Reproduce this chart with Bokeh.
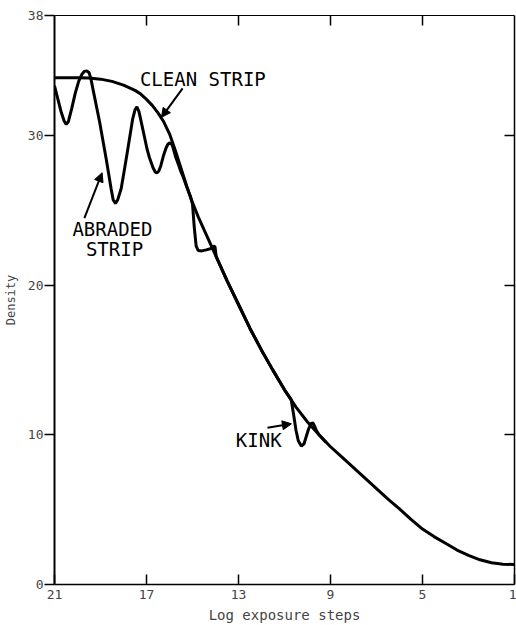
from bokeh.plotting import figure
from bokeh.models import Range1d, FixedTicker, LinearAxis, Arrow, NormalHead, CustomJSTickFormatter
from bokeh.core.properties import value
from bokeh.embed import file_html
from bokeh.resources import INLINE

# ---- data ----
clean_x = [21, 20.5, 20, 19.5, 19, 18.5, 18, 17.5, 17.25, 17, 16.75, 16.5, 16.25, 16, 15.75,
           15.5, 15.25, 15, 14.75, 14.5, 14, 13.5, 13, 12.5, 12, 11.5, 11, 10.5, 10, 9.5, 9,
           8.5, 8, 7.5, 7, 6.5, 6, 5.5, 5, 4.5, 4, 3.5, 3, 2.5, 2, 1.5, 1]
clean_y = [33.85, 33.85, 33.85, 33.83, 33.75, 33.6, 33.35, 33.0, 32.75, 32.4, 32.0, 31.5, 30.9,
           30.1, 29.0, 27.8, 26.6, 25.5, 24.55, 23.7, 22.0, 20.3, 18.7, 17.1, 15.65, 14.3,
           13.0, 11.85, 10.85, 10.0, 9.2, 8.5, 7.8, 7.1, 6.4, 5.7, 5.05, 4.35, 3.7, 3.2, 2.75,
           2.3, 1.95, 1.65, 1.45, 1.36, 1.33]

abr_x = [21.0, 20.85, 20.7, 20.58, 20.49, 20.4, 20.25, 20.1, 19.95, 19.8, 19.7, 19.6, 19.5,
         19.42, 19.33, 19.04, 18.75, 18.54, 18.45, 18.35, 18.25, 18.1, 17.95, 17.81, 17.6,
         17.5, 17.42, 17.33, 17.23, 17.09, 16.98, 16.87, 16.72, 16.62, 16.55, 16.47, 16.38,
         16.27, 16.15, 16.07, 16.0, 15.92, 15.85, 15.72, 15.6, 15.5, 15.4, 15.25, 15.1, 15.0,
         14.92, 14.84, 14.75, 14.6, 14.4, 14.19, 14.08, 14.02, 13.97, 13.5, 13.0, 12.5, 12.0,
         11.5, 11.0, 10.71, 10.6, 10.5, 10.4, 10.27, 10.15, 10.05, 9.95, 9.85, 9.77, 9.7,
         9.6, 9.5, 9.2]
abr_y = [33.3, 32.4, 31.5, 30.95, 30.73, 30.9, 31.8, 32.8, 33.6, 34.1, 34.27, 34.3, 34.2,
         33.8, 33.1, 30.9, 28.4, 26.45, 25.7, 25.44, 25.7, 26.45, 27.8, 29.1, 31.1,
         31.7, 31.9, 31.6, 30.9, 29.9, 29.1, 28.5, 27.85, 27.55, 27.48, 27.6, 27.95,
         28.6, 29.15, 29.4, 29.5, 29.45, 29.2, 28.5, 28.0, 27.55, 27.2, 26.55, 25.95, 25.4,
         23.8, 22.6, 22.3, 22.28, 22.35, 22.44, 22.6, 22.55, 21.9, 20.3, 18.7, 17.1, 15.65,
         14.3, 13.0, 12.35, 11.3, 10.3, 9.6, 9.25, 9.4, 9.9, 10.4, 10.75, 10.8, 10.6,
         10.25, 10.0, 9.5]

x_ticks = [21, 17, 13, 9, 5, 1]
y_ticks = [0, 10, 20, 30, 38]
inner_x_ticks = [17, 13, 9, 5]
inner_y_ticks = [10, 20, 30]

# annotation texts and positions (data coords, text centres)
labels_text = ["CLEAN STRIP", "ABRADED", "STRIP", "KINK"]
labels_x = [14.55, 18.48, 18.39, 12.12]
labels_y = [33.73, 23.73, 22.4, 9.67]
arrows = [((15.43, 33.13), (16.35, 31.2)),
          ((19.70, 24.47), (18.93, 27.5)),
          ((11.74, 10.47), (10.70, 10.73))]

FONT = "DejaVu Sans Mono"

p = figure(width=516, height=625, output_backend="svg", toolbar_location=None,
           x_range=Range1d(21, 1), y_range=Range1d(0, 38),
           min_border_left=54, min_border_right=2, min_border_top=15, min_border_bottom=40,
           x_axis_label="Log exposure steps", y_axis_label="Density")
p.grid.visible = False
p.outline_line_color = None
p.background_fill_color = "white"
p.border_fill_color = "white"

xa = p.xaxis[0]
xa.ticker = FixedTicker(ticks=x_ticks)
xa.major_tick_in = 10
xa.major_tick_out = 0
xa.minor_tick_line_color = None
xa.axis_line_width = 1.5
xa.major_tick_line_width = 1.5
xa.major_label_standoff = 5
xa.major_label_text_font = FONT
xa.major_label_text_font_size = "13px"
xa.axis_label_text_font = FONT
xa.axis_label_text_font_size = "14px"
xa.axis_label_text_font_style = "normal"
xa.axis_label_standoff = 5

ya = p.yaxis[0]
ya.ticker = FixedTicker(ticks=y_ticks)
ya.major_tick_in = 0
ya.major_tick_out = 10
ya.minor_tick_line_color = None
ya.axis_line_width = 2
ya.major_tick_line_width = 1.5
ya.major_label_standoff = 1
ya.major_label_text_font = FONT
ya.major_label_text_font_size = "13px"
ya.axis_label_text_font = FONT
ya.axis_label_text_font_size = "12px"
ya.axis_label_text_font_style = "normal"
ya.axis_label_standoff = 7

blank = CustomJSTickFormatter(code="return ''")
top = LinearAxis(ticker=FixedTicker(ticks=inner_x_ticks), formatter=blank,
                 major_tick_in=10, major_tick_out=0, minor_tick_line_color=None,
                 axis_line_width=1, major_tick_line_width=1.5, major_label_standoff=0)
right = LinearAxis(ticker=FixedTicker(ticks=inner_y_ticks), formatter=blank,
                   major_tick_in=10, major_tick_out=0, minor_tick_line_color=None,
                   axis_line_width=1.5, major_tick_line_width=1.5, major_label_standoff=0)
p.add_layout(top, "above")
p.add_layout(right, "right")

p.line(clean_x, clean_y, line_color="black", line_width=3)
p.line(abr_x, abr_y, line_color="black", line_width=3)

p.text(x=labels_x, y=labels_y, text=labels_text, text_font=value(FONT),
       text_font_size=value("19px"), text_baseline="middle", text_align="center",
       text_color="black")

for (x0, y0), (x1, y1) in arrows:
    p.add_layout(Arrow(x_start=x0, y_start=y0, x_end=x1, y_end=y1, line_width=2,
                       line_color="black",
                       end=NormalHead(size=9, fill_color="black", line_color="black")))

open("out.html", "w").write(file_html(p, INLINE))
